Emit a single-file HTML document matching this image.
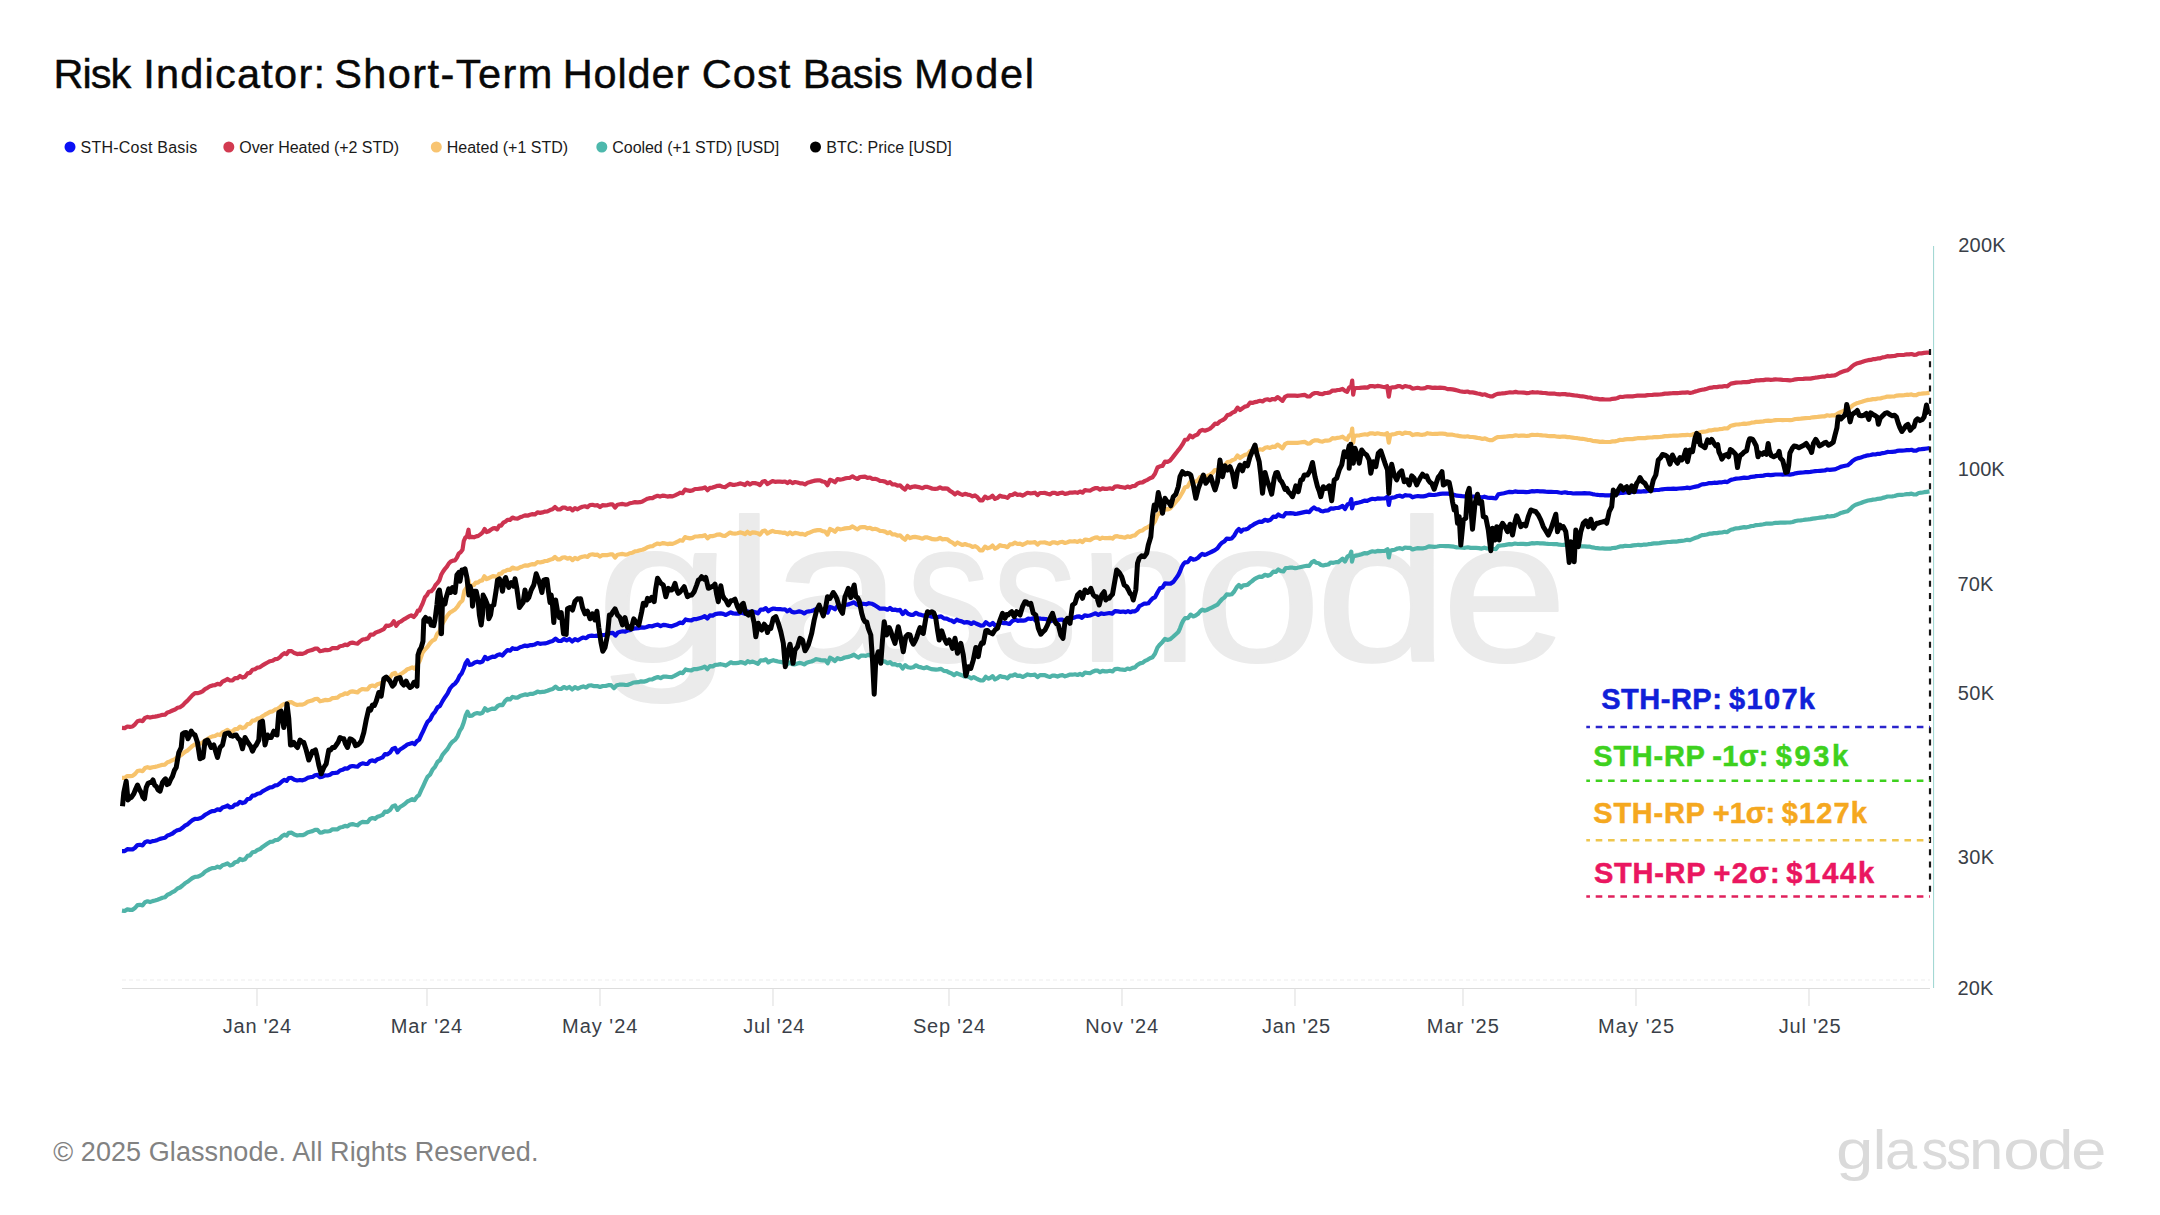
<!DOCTYPE html>
<html lang="en"><head><meta charset="utf-8"><title>Risk Indicator: Short-Term Holder Cost Basis Model</title>
<style>html,body{margin:0;padding:0;background:#fff;}body{width:2160px;height:1215px;overflow:hidden;font-family:"Liberation Sans", sans-serif;}svg{display:block;}text{font-family:"Liberation Sans", sans-serif;white-space:pre;}</style></head><body>
<svg width="2160" height="1215" viewBox="0 0 2160 1215">
<rect width="2160" height="1215" fill="#ffffff"/>
<text y="87.6" font-size="41.5" fill="#080808" stroke="#080808" stroke-width="0.45"><tspan x="53.50" letter-spacing="-1.000">Risk </tspan><tspan x="143.25" letter-spacing="1.222">Indicator: </tspan><tspan x="334.25" letter-spacing="1.417">Short-Term </tspan><tspan x="562.75" letter-spacing="0.850">Holder </tspan><tspan x="701.75" letter-spacing="1.083">Cost </tspan><tspan x="802.75" letter-spacing="-0.375">Basis </tspan><tspan x="914.00" letter-spacing="1.750">Model</tspan></text>
<circle cx="70" cy="147" r="5.5" fill="#0b10f5"/>
<text y="153" font-size="16" fill="#1a1a1a" ><tspan x="80.50" letter-spacing="0.231">STH-Cost Basis</tspan></text>
<circle cx="228.8" cy="147" r="5.5" fill="#d23a50"/>
<text y="153" font-size="16" fill="#1a1a1a" ><tspan x="239.25" letter-spacing="-0.039">Over Heated (+2 STD)</tspan></text>
<circle cx="436.3" cy="147" r="5.5" fill="#f8c471"/>
<text y="153" font-size="16" fill="#1a1a1a" ><tspan x="446.75" letter-spacing="0.000">Heated (+1 STD)</tspan></text>
<circle cx="601.8" cy="147" r="5.5" fill="#4db8ac"/>
<text y="153" font-size="16" fill="#1a1a1a" ><tspan x="612.25" letter-spacing="-0.037">Cooled (+1 STD) [USD]</tspan></text>
<circle cx="815.5" cy="147" r="5.5" fill="#000000"/>
<text y="153" font-size="16" fill="#1a1a1a" ><tspan x="826.25" letter-spacing="0.067">BTC: Price [USD]</tspan></text>
<text y="660.5" font-size="203" fill="#ebebeb" stroke="#ebebeb" stroke-width="2" stroke-linejoin="round"><tspan x="596.29" textLength="134.98" lengthAdjust="spacingAndGlyphs">g</tspan><tspan x="725.74" textLength="47.05" lengthAdjust="spacingAndGlyphs">l</tspan><tspan x="771.38" textLength="131.27" lengthAdjust="spacingAndGlyphs">a</tspan><tspan x="906.36" textLength="84.07" lengthAdjust="spacingAndGlyphs">s</tspan><tspan x="992.29" textLength="85.12" lengthAdjust="spacingAndGlyphs">s</tspan><tspan x="1077.92" textLength="120.50" lengthAdjust="spacingAndGlyphs">n</tspan><tspan x="1193.83" textLength="127.56" lengthAdjust="spacingAndGlyphs">o</tspan><tspan x="1314.99" textLength="133.60" lengthAdjust="spacingAndGlyphs">d</tspan><tspan x="1441.41" textLength="125.98" lengthAdjust="spacingAndGlyphs">e</tspan></text>
<line x1="122" y1="980" x2="1930" y2="980" stroke="#ededed" stroke-width="1" stroke-dasharray="4 3"/>
<line x1="122" y1="988.5" x2="1930" y2="988.5" stroke="#dcdcdc" stroke-width="1.2"/>
<line x1="257" y1="988.5" x2="257" y2="1006" stroke="#e2e2e2" stroke-width="1.2"/>
<text y="1032.5" font-size="20" fill="#3a3f48" ><tspan x="222.85" letter-spacing="0.717">Jan '24</tspan></text>
<line x1="427" y1="988.5" x2="427" y2="1006" stroke="#e2e2e2" stroke-width="1.2"/>
<text y="1032.5" font-size="20" fill="#3a3f48" ><tspan x="390.80" letter-spacing="0.883">Mar '24</tspan></text>
<line x1="600" y1="988.5" x2="600" y2="1006" stroke="#e2e2e2" stroke-width="1.2"/>
<text y="1032.5" font-size="20" fill="#3a3f48" ><tspan x="562.00" letter-spacing="1.008">May '24</tspan></text>
<line x1="773" y1="988.5" x2="773" y2="1006" stroke="#e2e2e2" stroke-width="1.2"/>
<text y="1032.5" font-size="20" fill="#3a3f48" ><tspan x="743.25" letter-spacing="0.642">Jul '24</tspan></text>
<line x1="949" y1="988.5" x2="949" y2="1006" stroke="#e2e2e2" stroke-width="1.2"/>
<text y="1032.5" font-size="20" fill="#3a3f48" ><tspan x="912.90" letter-spacing="0.833">Sep '24</tspan></text>
<line x1="1122" y1="988.5" x2="1122" y2="1006" stroke="#e2e2e2" stroke-width="1.2"/>
<text y="1032.5" font-size="20" fill="#3a3f48" ><tspan x="1085.20" letter-spacing="0.967">Nov '24</tspan></text>
<line x1="1295" y1="988.5" x2="1295" y2="1006" stroke="#e2e2e2" stroke-width="1.2"/>
<text y="1032.5" font-size="20" fill="#3a3f48" ><tspan x="1262.05" letter-spacing="0.692">Jan '25</tspan></text>
<line x1="1463" y1="988.5" x2="1463" y2="1006" stroke="#e2e2e2" stroke-width="1.2"/>
<text y="1032.5" font-size="20" fill="#3a3f48" ><tspan x="1426.80" letter-spacing="0.992">Mar '25</tspan></text>
<line x1="1636" y1="988.5" x2="1636" y2="1006" stroke="#e2e2e2" stroke-width="1.2"/>
<text y="1032.5" font-size="20" fill="#3a3f48" ><tspan x="1598.00" letter-spacing="1.100">May '25</tspan></text>
<line x1="1809" y1="988.5" x2="1809" y2="1006" stroke="#e2e2e2" stroke-width="1.2"/>
<text y="1032.5" font-size="20" fill="#3a3f48" ><tspan x="1778.75" letter-spacing="0.767">Jul '25</tspan></text>
<text y="252.4" font-size="20" fill="#3a3f48" ><tspan x="1958.20" letter-spacing="0.267">200K</tspan></text>
<text y="475.8" font-size="20" fill="#3a3f48" ><tspan x="1957.70" letter-spacing="0.100">100K</tspan></text>
<text y="590.7" font-size="20" fill="#3a3f48" ><tspan x="1957.50" letter-spacing="0.125">70K</tspan></text>
<text y="699.6" font-size="20" fill="#3a3f48" ><tspan x="1957.75" letter-spacing="0.350">50K</tspan></text>
<text y="864.4" font-size="20" fill="#3a3f48" ><tspan x="1957.75" letter-spacing="0.350">30K</tspan></text>
<text y="995.2" font-size="20" fill="#3a3f48" ><tspan x="1957.50" letter-spacing="0.125">20K</tspan></text>
<line x1="1933.6" y1="246" x2="1933.6" y2="988" stroke="#9bd4d0" stroke-width="1"/>
<polyline points="122.0,910.6 124.7,911.0 127.3,909.4 130.0,909.9 132.5,909.8 135.0,908.0 137.5,905.1 140.0,904.8 142.5,905.4 145.0,902.2 147.5,901.3 150.0,902.1 152.5,901.1 155.0,900.5 157.5,899.7 160.0,898.8 162.5,897.8 165.0,897.3 167.5,894.7 170.0,893.7 172.5,892.1 175.0,890.8 177.5,888.5 180.0,887.5 182.5,885.5 185.0,883.3 187.5,881.8 190.0,879.9 192.5,878.0 195.0,876.8 197.5,876.7 200.0,875.8 202.5,874.3 205.0,871.8 207.5,870.3 210.0,868.9 212.5,868.1 215.0,868.0 217.5,866.7 220.0,867.6 222.5,865.2 225.0,864.5 227.5,863.4 230.0,865.5 232.5,864.8 235.0,862.2 237.5,861.7 240.0,859.0 242.5,860.1 245.0,859.2 247.5,855.9 250.0,855.4 252.5,852.2 255.0,851.8 257.5,849.9 260.0,849.1 262.5,846.9 265.0,845.2 267.5,843.5 270.0,841.9 272.5,841.7 275.0,840.2 277.5,840.0 280.0,838.3 282.2,836.1 284.4,834.7 286.6,835.7 288.8,832.8 291.6,832.7 294.4,834.6 297.2,835.5 300.0,835.0 302.5,835.2 305.0,834.2 307.5,832.5 310.0,831.7 312.5,831.1 315.0,829.9 317.5,829.9 320.0,832.6 322.5,832.3 325.0,831.3 327.5,831.5 330.0,831.0 332.5,829.3 335.0,829.4 337.5,829.3 340.0,827.5 342.5,827.0 345.0,825.9 347.5,826.4 350.0,824.5 352.5,824.1 355.0,824.8 357.5,825.3 360.0,823.1 362.5,821.9 365.0,822.1 367.5,822.2 370.0,819.0 372.5,818.1 375.0,818.8 377.5,816.7 380.0,815.9 382.5,814.9 385.0,811.6 387.5,811.8 390.0,810.1 392.5,806.4 395.0,805.3 397.5,809.9 400.0,807.0 402.5,805.5 405.0,803.8 407.4,801.5 409.8,800.4 412.2,799.2 414.6,800.2 417.0,796.6 419.1,795.0 421.2,790.2 423.3,785.8 425.4,781.2 427.5,776.8 430.0,774.7 432.5,769.7 435.0,766.8 437.5,762.0 440.0,760.0 442.5,754.8 445.0,751.8 447.5,749.0 450.0,744.7 452.5,741.7 455.0,739.9 457.5,736.6 459.6,731.2 461.7,727.9 463.8,722.2 465.6,715.7 467.5,711.6 469.5,716.0 472.1,715.7 474.7,713.7 477.3,713.0 479.9,713.7 482.5,712.7 485.0,708.3 487.5,710.6 490.0,709.4 492.5,708.6 495.0,708.9 497.5,706.2 500.0,704.8 502.5,705.1 505.0,701.1 507.5,698.8 510.0,699.5 512.5,696.9 515.0,697.6 517.5,697.6 520.0,696.1 522.5,695.2 525.0,694.4 527.5,694.9 530.0,693.9 532.5,693.9 535.0,693.1 537.5,691.6 540.0,692.3 542.5,691.9 545.0,691.6 547.5,690.8 550.0,689.8 552.8,688.9 555.6,686.6 558.3,688.8 561.1,689.0 563.9,687.0 566.7,688.4 569.4,687.0 572.2,689.5 575.0,687.1 577.8,688.7 580.6,687.3 583.3,686.4 586.1,687.5 588.9,685.5 591.7,685.4 594.4,686.2 597.2,686.0 600.0,687.0 602.8,686.0 605.6,686.0 608.3,685.2 611.1,685.1 613.9,688.2 616.7,685.3 619.4,684.7 622.2,684.5 625.0,684.8 627.5,685.0 630.0,684.1 632.8,682.8 635.6,682.3 638.3,682.2 641.1,681.3 643.9,681.6 646.7,680.9 649.4,679.5 652.2,679.4 655.0,678.0 657.8,677.0 660.6,678.1 663.3,676.6 666.1,676.6 668.9,677.0 671.7,677.1 674.4,675.9 677.2,674.4 680.0,672.7 682.8,673.1 685.6,669.4 688.3,670.2 691.1,670.5 693.9,669.1 696.7,669.1 699.3,668.5 702.0,667.9 704.7,666.6 707.3,669.2 710.0,666.2 712.7,666.4 715.3,664.9 718.0,664.6 720.7,664.2 723.3,664.7 725.8,665.6 728.3,664.0 730.8,662.3 733.3,663.2 735.8,663.1 738.3,662.9 740.7,662.1 743.0,662.6 745.3,663.6 747.7,661.2 750.0,662.3 752.7,661.6 755.3,662.6 758.0,663.8 760.7,660.3 763.3,660.5 765.8,659.3 768.3,662.4 770.8,660.9 773.3,660.2 775.7,660.9 778.0,661.5 780.3,661.8 782.7,662.5 785.0,662.7 787.3,664.3 789.7,662.4 792.0,664.2 794.3,664.5 796.7,663.7 799.2,662.9 801.7,663.3 804.2,664.4 806.7,662.7 809.0,662.0 811.3,661.5 813.7,660.5 816.0,659.2 818.3,659.5 820.7,660.1 823.0,660.4 825.3,660.3 827.7,663.3 830.0,657.7 832.5,659.0 835.0,661.0 837.5,658.1 840.0,659.2 842.3,658.7 844.7,657.5 847.0,657.2 849.3,656.6 851.7,655.7 854.0,654.7 856.3,656.4 858.7,657.5 861.0,655.6 863.3,655.5 865.8,655.9 868.3,654.8 870.7,655.6 873.0,657.7 875.3,658.0 877.7,659.1 880.0,660.4 882.5,661.0 885.0,661.6 887.5,663.2 890.0,662.2 892.5,664.4 895.0,664.2 897.5,665.3 900.0,664.9 902.7,668.6 905.3,665.1 908.0,667.3 910.7,667.8 913.3,667.3 916.0,665.3 918.7,666.9 921.3,667.4 924.0,668.2 926.7,667.2 929.0,668.2 931.3,669.1 933.7,669.4 936.0,669.7 938.3,669.4 941.1,668.9 943.9,670.9 946.7,671.2 949.2,672.6 951.7,673.5 954.2,675.2 956.7,673.1 959.2,674.3 961.7,675.2 964.2,676.5 966.7,676.3 969.0,677.0 971.3,678.4 973.7,677.0 976.0,678.4 978.3,679.5 980.8,680.5 983.3,680.3 985.8,676.8 988.3,678.7 990.0,678.1 992.5,676.1 995.0,679.4 997.5,678.2 1000.0,676.0 1002.5,676.9 1005.0,677.2 1007.5,678.3 1010.0,675.7 1012.5,675.6 1015.0,674.3 1017.5,675.9 1020.0,675.7 1022.5,677.0 1025.0,675.8 1027.5,674.4 1030.0,675.1 1032.5,675.0 1035.0,674.7 1037.5,677.1 1040.0,675.2 1042.5,675.2 1045.0,675.2 1047.5,676.2 1050.0,677.0 1052.5,675.5 1055.0,675.7 1057.5,676.6 1060.0,675.5 1062.5,675.1 1065.0,676.3 1067.5,675.5 1070.0,674.6 1072.5,674.7 1075.0,674.3 1077.5,675.0 1080.0,673.8 1082.5,675.1 1085.0,672.5 1087.5,673.0 1090.0,673.2 1092.5,671.7 1095.0,670.7 1097.5,670.6 1100.0,672.2 1102.5,670.9 1105.0,671.4 1107.5,671.3 1110.0,670.8 1112.5,671.5 1115.0,669.1 1117.5,668.8 1120.0,669.4 1122.5,669.6 1125.0,670.0 1127.5,668.5 1130.0,669.2 1132.5,667.9 1135.0,667.4 1137.5,664.8 1140.0,663.4 1142.5,662.8 1145.0,660.9 1147.5,659.8 1150.0,658.2 1152.5,657.2 1155.0,653.8 1157.5,647.5 1160.0,644.4 1162.5,641.9 1165.0,638.8 1167.5,639.9 1170.0,639.3 1172.8,637.0 1175.6,634.5 1178.3,632.0 1180.0,628.3 1181.7,623.7 1183.3,620.5 1185.0,618.2 1187.8,618.2 1190.6,614.6 1193.3,616.4 1195.6,615.6 1197.8,614.1 1200.0,611.5 1202.2,609.7 1204.4,610.7 1206.7,610.0 1209.4,608.7 1212.2,607.3 1215.0,605.9 1217.5,604.6 1220.0,601.5 1222.2,599.0 1224.4,597.6 1226.7,594.4 1229.2,594.7 1231.7,594.3 1234.2,591.5 1236.7,587.2 1238.9,584.9 1241.1,587.4 1243.3,585.3 1245.6,585.2 1247.8,584.6 1250.0,582.6 1252.2,581.0 1254.4,579.2 1256.7,577.9 1259.4,576.6 1262.2,576.8 1265.0,574.8 1267.8,575.8 1270.6,574.7 1273.3,571.7 1275.8,571.9 1278.3,569.4 1280.8,571.0 1283.3,571.5 1285.7,568.0 1288.0,568.0 1290.3,567.6 1292.7,567.7 1295.0,568.1 1297.3,567.8 1299.7,567.3 1302.0,566.7 1304.3,566.2 1306.7,565.8 1309.2,565.9 1311.7,562.4 1314.0,561.0 1316.3,562.8 1318.7,563.3 1321.0,565.0 1323.3,565.5 1325.8,564.8 1328.3,564.5 1330.8,562.5 1333.3,562.8 1335.8,562.2 1338.3,562.1 1340.0,560.6 1342.5,558.8 1345.0,561.5 1347.5,556.5 1350.0,554.9 1351.3,551.6 1352.0,561.6 1353.3,556.4 1356.1,555.6 1358.9,555.0 1361.7,554.2 1364.4,553.1 1367.2,553.4 1370.0,552.1 1372.5,551.3 1375.0,551.7 1377.5,550.9 1380.0,551.2 1382.5,551.0 1385.0,550.8 1387.5,549.2 1388.8,557.5 1390.0,551.0 1392.5,550.1 1395.0,549.7 1397.5,548.5 1400.0,548.2 1402.5,549.1 1405.0,547.5 1407.5,547.8 1410.0,547.8 1412.5,549.5 1415.0,548.7 1417.8,548.1 1420.6,548.3 1423.3,548.3 1426.1,547.7 1428.9,546.4 1431.7,546.6 1434.4,546.8 1437.2,546.5 1440.0,546.0 1442.8,546.0 1445.6,546.1 1448.3,546.1 1451.1,546.4 1453.9,546.7 1456.7,547.4 1459.4,547.5 1462.2,547.7 1465.0,547.8 1467.8,547.3 1470.6,547.9 1473.3,547.8 1476.1,547.9 1478.9,548.1 1481.7,548.6 1484.4,547.7 1487.2,548.5 1490.0,548.6 1491.9,548.7 1493.9,549.0 1495.8,549.1 1498.3,545.9 1501.1,545.5 1503.9,545.2 1506.7,544.6 1509.4,544.1 1512.2,544.3 1515.0,543.5 1517.8,544.0 1520.6,543.8 1523.3,543.8 1526.1,544.2 1528.9,543.9 1531.7,543.2 1534.4,543.4 1537.2,543.0 1540.0,543.3 1542.8,543.3 1545.6,543.7 1548.3,543.9 1551.1,544.0 1553.9,544.1 1556.7,544.1 1559.4,544.7 1562.2,545.0 1565.0,544.7 1567.8,545.3 1570.6,545.4 1573.3,546.0 1576.1,546.1 1578.9,546.1 1581.7,546.3 1584.4,546.3 1587.2,546.6 1590.0,546.7 1592.5,547.4 1595.0,547.8 1597.5,548.1 1600.0,548.5 1602.5,548.4 1605.0,548.7 1607.5,548.7 1610.0,548.7 1612.5,548.0 1615.0,547.9 1617.5,547.2 1620.0,546.4 1622.7,546.4 1625.3,545.8 1628.0,546.0 1630.7,545.9 1633.3,545.4 1635.8,545.2 1638.3,544.8 1640.8,545.1 1643.3,544.7 1645.8,544.7 1648.3,544.2 1651.1,543.9 1653.9,543.4 1656.7,543.3 1659.4,543.1 1662.2,542.6 1665.0,542.3 1667.8,542.0 1670.6,541.9 1673.3,541.6 1676.1,541.7 1678.9,541.1 1681.7,540.8 1684.4,540.5 1687.2,539.8 1690.0,540.1 1692.8,538.9 1695.6,537.8 1698.3,536.9 1700.2,535.9 1702.0,535.1 1704.4,534.9 1706.9,534.5 1709.3,533.7 1711.7,533.6 1714.1,533.1 1716.7,533.1 1719.4,532.7 1722.0,532.5 1724.7,531.8 1727.3,532.1 1729.1,530.8 1730.9,529.7 1733.6,529.1 1736.2,528.3 1738.9,528.1 1741.5,527.6 1744.2,527.2 1746.6,527.3 1749.0,526.8 1751.4,526.0 1753.8,525.8 1756.2,525.1 1758.6,525.0 1761.0,524.7 1763.4,524.3 1765.8,523.7 1768.2,523.5 1770.6,523.6 1773.1,523.3 1775.5,522.9 1777.9,522.8 1780.3,522.7 1782.7,522.7 1785.1,522.6 1787.5,522.5 1789.9,522.5 1792.7,522.0 1795.5,521.0 1798.3,520.5 1800.7,520.3 1803.1,520.0 1805.6,519.6 1808.0,519.4 1810.4,519.1 1812.8,518.6 1815.2,518.3 1817.6,518.0 1820.0,517.7 1822.4,517.4 1824.8,517.2 1827.2,516.2 1829.6,516.5 1832.0,516.1 1834.4,515.8 1836.5,515.0 1838.5,514.1 1840.5,513.1 1842.9,512.4 1845.3,511.8 1847.7,511.2 1850.1,509.2 1852.5,506.8 1854.5,505.4 1856.5,504.4 1858.5,503.7 1860.9,503.0 1863.3,502.0 1865.7,501.2 1868.1,500.5 1870.6,500.2 1873.0,499.6 1875.4,499.5 1877.8,498.8 1880.2,498.7 1882.6,497.9 1885.0,497.4 1887.4,496.5 1889.8,496.5 1892.2,496.3 1894.6,496.0 1897.0,495.2 1899.4,494.9 1901.9,494.8 1904.3,494.5 1906.7,494.1 1909.1,494.1 1911.5,493.6 1913.9,494.5 1916.3,494.3 1918.7,493.0 1921.4,492.7 1924.1,492.2 1926.8,491.8 1929.5,491.4" fill="none" stroke="#4fb3a8" stroke-width="4.2" stroke-linejoin="round" stroke-linecap="butt" />
<polyline points="122.0,777.9 124.7,777.9 127.3,776.0 130.0,776.2 132.5,775.9 135.0,774.0 137.5,771.0 140.0,770.5 142.5,771.2 145.0,768.1 147.5,767.2 150.0,768.1 152.5,767.3 155.0,766.9 157.5,766.3 160.0,765.6 162.5,764.8 165.0,764.6 167.5,762.2 170.0,761.4 172.5,760.1 175.0,759.1 177.5,756.9 180.0,755.9 182.5,754.0 185.0,751.9 187.5,750.6 190.0,748.2 192.5,745.9 195.0,744.3 197.5,744.5 200.0,743.8 202.5,742.5 205.0,740.3 207.5,739.0 210.0,737.4 212.5,736.4 215.0,736.0 217.5,734.4 220.0,735.1 222.5,732.4 225.0,731.4 227.5,729.9 230.0,731.8 232.5,731.4 235.0,729.1 237.5,729.0 240.0,726.6 242.5,728.1 245.0,727.3 247.5,724.1 250.0,723.7 252.5,720.6 255.0,720.3 257.5,718.6 260.0,718.1 262.5,716.2 265.0,714.7 267.5,713.3 270.0,711.9 272.5,711.4 275.0,709.6 277.5,709.0 280.0,707.1 282.2,705.0 284.4,703.8 286.6,705.0 288.8,702.3 291.6,702.2 294.4,704.1 297.2,705.0 300.0,704.5 302.5,704.6 305.0,703.6 307.5,701.8 310.0,701.0 312.5,700.4 315.0,699.0 317.5,698.8 320.0,701.3 322.5,700.8 325.0,699.9 327.5,700.1 330.0,699.7 332.5,698.1 335.0,697.9 337.5,697.6 340.0,695.5 342.5,694.8 345.0,693.4 347.5,693.9 350.0,691.9 352.5,691.4 355.0,691.9 357.5,692.4 360.0,690.1 362.5,689.0 365.0,689.3 367.5,689.4 370.0,686.3 372.5,685.5 375.0,686.3 377.5,684.2 380.0,683.4 382.5,682.4 385.0,679.1 387.5,679.3 390.0,677.6 392.5,673.9 395.0,672.8 397.5,677.4 400.0,674.5 402.5,673.0 405.0,671.3 407.4,669.2 409.8,668.4 412.2,667.4 414.6,668.7 417.0,665.4 419.8,660.6 422.5,652.7 425.0,649.5 427.5,646.9 430.0,643.2 432.5,640.6 435.0,639.3 437.2,633.9 439.4,631.5 441.6,625.5 443.8,621.3 445.6,618.3 447.5,615.3 450.0,612.5 452.5,611.1 455.0,609.5 457.5,606.6 460.0,602.7 462.5,600.4 464.4,591.0 466.9,587.2 468.5,580.3 469.4,587.3 471.6,585.8 473.8,585.1 475.8,582.5 477.9,582.6 480.0,580.9 482.2,580.4 484.4,576.3 486.6,579.1 488.8,578.2 490.8,577.1 492.9,576.1 495.0,576.3 497.1,577.5 499.2,573.8 501.2,573.7 503.3,571.5 505.4,571.0 507.5,569.8 510.0,569.9 512.5,567.6 515.0,568.5 517.5,568.6 520.0,567.3 522.5,566.4 525.0,565.4 527.5,565.7 530.0,564.7 532.5,564.1 535.0,564.3 537.5,562.0 540.0,562.5 542.5,561.9 545.0,561.0 547.5,560.8 550.0,559.8 552.5,559.1 555.0,556.9 557.5,559.3 560.0,559.4 562.5,557.5 565.0,557.3 567.5,558.7 570.0,557.8 572.5,560.1 575.0,557.9 577.5,559.2 580.0,557.6 582.5,556.7 585.0,556.2 587.5,556.9 590.0,554.7 592.5,554.3 595.0,554.9 597.5,554.7 600.0,556.6 602.5,555.0 605.0,555.2 607.5,555.1 610.0,554.4 612.5,554.3 615.0,557.5 617.5,554.7 620.0,554.3 622.5,553.9 625.0,554.6 627.5,554.3 630.0,553.2 632.5,552.7 635.0,551.4 637.5,551.0 640.0,550.2 642.5,549.8 645.0,548.8 647.5,547.2 650.0,546.4 652.5,546.2 655.0,544.6 657.5,543.5 660.0,544.1 662.5,543.1 665.0,543.4 667.5,544.1 670.0,543.6 672.5,543.9 675.0,542.9 677.5,541.7 680.0,540.2 682.5,540.7 685.0,537.1 687.5,537.9 690.0,538.4 692.5,537.9 695.0,536.5 697.5,536.5 700.0,536.2 702.5,536.1 705.0,535.2 707.5,538.3 710.0,536.2 712.5,536.1 715.0,535.5 717.5,534.6 720.0,534.4 722.5,535.6 725.0,535.9 727.5,534.3 730.0,532.6 732.5,533.5 735.0,533.6 737.5,533.2 740.0,532.4 742.5,533.0 745.0,534.1 747.5,531.8 750.0,533.8 752.5,532.4 755.0,532.6 757.5,533.2 760.0,534.6 762.5,531.3 765.0,530.5 767.5,533.6 770.0,532.0 772.5,530.8 775.0,531.9 777.5,532.0 780.0,532.3 782.5,532.8 785.0,532.7 787.5,534.3 790.0,532.4 792.5,534.2 795.0,532.9 797.5,533.3 800.0,534.1 802.5,533.9 805.0,534.9 807.5,533.2 810.0,532.4 812.5,531.3 815.0,530.6 817.5,530.1 820.0,530.0 822.5,531.1 825.0,531.5 827.5,534.6 830.0,529.0 832.5,530.1 835.0,531.7 837.5,528.6 840.0,529.3 842.5,529.0 845.0,528.4 847.5,528.1 850.0,527.9 852.5,526.4 855.0,528.1 857.5,529.3 860.0,527.4 862.5,527.2 865.0,527.1 867.5,528.3 870.0,527.8 872.5,529.2 875.0,528.8 877.5,529.5 880.0,530.8 882.5,531.0 885.0,531.6 887.5,533.2 890.0,532.2 892.5,534.5 895.0,534.4 897.5,535.7 900.0,535.3 902.5,537.8 905.0,539.7 907.5,536.0 910.0,538.1 912.5,537.2 915.0,536.9 917.5,537.4 920.0,537.9 922.5,538.7 925.0,537.4 927.5,537.4 930.0,538.2 932.5,539.2 935.0,539.4 937.5,539.2 940.0,537.9 942.5,539.3 945.0,539.0 947.5,539.3 950.0,541.4 952.5,542.6 955.0,544.6 957.5,542.5 960.0,543.8 962.5,545.0 965.0,544.1 967.5,545.0 970.0,545.5 972.5,546.9 975.0,546.2 977.5,547.5 980.0,550.4 982.5,550.3 985.0,546.6 987.5,548.3 990.0,547.6 992.5,545.5 995.0,548.7 997.5,547.4 1000.0,545.2 1002.5,546.0 1005.0,546.2 1007.5,547.2 1010.0,544.4 1012.5,544.1 1015.0,542.7 1017.5,544.0 1020.0,543.7 1022.5,544.9 1025.0,543.7 1027.5,542.2 1030.0,542.7 1032.5,542.5 1035.0,542.2 1037.5,544.6 1040.0,542.5 1042.5,542.5 1045.0,542.4 1047.5,543.3 1050.0,543.9 1052.5,542.3 1055.0,542.4 1057.5,543.3 1060.0,542.2 1062.5,541.8 1065.0,543.0 1067.5,542.3 1070.0,541.3 1072.5,541.5 1075.0,541.2 1077.5,541.9 1080.0,540.7 1082.5,542.1 1085.0,539.5 1087.5,539.9 1090.0,540.1 1092.5,538.6 1095.0,537.6 1097.5,537.4 1100.0,539.0 1102.5,537.7 1105.0,538.2 1107.5,538.1 1110.0,537.8 1112.5,538.6 1115.0,536.4 1117.5,536.2 1120.0,536.9 1122.5,537.2 1125.0,537.6 1127.5,536.3 1130.0,537.0 1132.5,535.8 1135.0,535.4 1137.5,532.7 1140.0,531.1 1142.5,530.4 1145.0,528.4 1147.5,527.3 1150.0,525.7 1152.5,524.7 1155.0,521.3 1157.5,515.0 1160.0,512.5 1162.5,512.6 1165.0,508.7 1167.5,509.5 1170.0,508.6 1172.5,505.8 1175.0,502.9 1177.5,500.0 1180.0,496.5 1182.5,492.3 1185.0,487.3 1187.5,486.7 1190.0,482.3 1192.5,483.9 1195.0,481.7 1197.5,480.7 1200.0,477.2 1202.5,476.2 1205.0,477.0 1207.5,476.0 1210.0,474.9 1212.5,472.8 1215.0,470.0 1217.5,470.1 1220.0,467.6 1222.5,466.4 1225.0,465.0 1227.5,462.0 1230.0,461.7 1232.5,460.1 1235.0,459.1 1237.5,455.4 1240.0,458.0 1242.5,456.3 1245.0,454.8 1247.5,454.3 1250.0,451.2 1252.5,451.4 1255.0,450.7 1257.5,450.4 1260.0,449.3 1262.5,449.8 1265.0,447.8 1267.5,447.2 1270.0,448.0 1272.5,446.7 1275.0,447.0 1277.5,444.6 1280.0,446.3 1282.5,448.3 1285.0,444.2 1287.5,442.9 1290.0,442.8 1292.5,442.8 1295.0,442.8 1297.5,442.9 1300.0,442.5 1302.5,442.2 1305.0,441.9 1307.5,443.6 1310.0,443.4 1312.5,441.2 1315.0,440.3 1317.5,440.3 1320.0,441.3 1322.5,441.7 1325.0,440.6 1327.5,440.6 1330.0,440.2 1332.5,438.2 1335.0,438.5 1337.5,437.8 1340.0,437.5 1342.5,436.7 1345.0,438.6 1347.1,439.7 1349.2,435.4 1351.2,434.6 1352.2,428.6 1353.2,442.6 1354.2,436.1 1356.9,435.5 1359.6,435.3 1362.3,434.8 1365.0,434.3 1367.5,434.7 1370.0,433.4 1372.5,433.3 1375.0,434.0 1377.5,433.3 1380.0,433.8 1382.4,434.1 1384.8,434.3 1387.2,433.2 1388.8,442.7 1390.2,435.0 1392.7,434.3 1395.1,434.0 1397.6,433.0 1400.0,432.9 1402.5,434.0 1405.0,432.6 1407.5,433.0 1410.0,433.2 1412.5,435.1 1415.0,434.4 1417.5,434.1 1420.0,434.6 1422.5,434.8 1425.0,434.4 1427.5,433.2 1430.0,433.7 1432.5,434.0 1435.0,433.8 1437.5,433.8 1440.0,433.5 1442.5,433.6 1445.0,433.8 1447.5,434.7 1450.0,434.6 1452.5,434.7 1455.0,435.2 1457.5,435.6 1460.0,436.2 1462.5,436.5 1465.0,436.7 1467.5,436.3 1470.0,437.0 1472.5,437.0 1475.0,437.4 1477.5,437.9 1480.0,438.2 1482.5,439.0 1485.0,438.4 1487.5,439.5 1490.0,440.2 1492.5,440.1 1495.0,438.4 1497.5,437.1 1500.0,437.0 1502.5,436.8 1505.0,436.7 1507.5,436.3 1510.0,436.0 1512.8,436.1 1515.6,435.3 1518.3,435.8 1521.1,435.7 1523.9,435.7 1526.7,436.0 1529.4,435.6 1532.2,434.8 1535.0,435.0 1537.5,434.8 1540.0,435.2 1542.5,435.4 1545.0,435.5 1547.5,435.9 1550.0,436.1 1552.5,436.2 1555.0,436.2 1557.5,436.7 1560.0,436.9 1562.5,436.5 1565.0,436.6 1567.5,437.1 1570.0,437.2 1572.5,437.6 1575.0,438.0 1577.5,438.2 1580.0,438.6 1582.5,438.8 1585.0,439.2 1587.5,439.8 1590.0,440.0 1592.5,440.8 1595.0,441.1 1597.5,441.4 1600.0,441.9 1602.5,441.7 1605.0,442.0 1607.5,442.0 1610.0,442.0 1612.5,441.4 1615.0,441.4 1617.5,440.8 1620.0,439.8 1622.5,440.0 1625.0,439.4 1627.5,439.1 1630.0,439.2 1632.5,439.1 1635.0,438.6 1637.5,438.2 1640.0,438.2 1642.5,438.0 1645.0,438.1 1647.5,437.6 1650.0,437.5 1652.5,437.4 1655.0,437.0 1657.5,437.1 1660.0,437.0 1662.5,436.6 1665.0,436.1 1667.5,436.1 1670.0,435.8 1672.5,435.7 1675.0,435.5 1677.5,435.7 1680.0,435.3 1682.5,435.2 1685.0,435.1 1687.5,434.8 1690.0,435.2 1692.4,434.6 1694.8,433.8 1697.2,433.1 1699.6,432.5 1702.0,431.9 1704.4,431.7 1706.9,431.2 1709.3,430.3 1711.7,430.3 1714.1,429.7 1716.7,429.7 1719.4,429.2 1722.0,429.0 1724.7,428.3 1727.3,428.5 1729.1,427.1 1730.9,425.7 1733.6,425.1 1736.2,424.5 1738.9,424.3 1741.5,424.0 1744.2,423.6 1746.6,423.8 1749.0,423.4 1751.4,422.7 1753.8,422.5 1756.2,421.9 1758.6,421.8 1761.0,421.6 1763.4,421.4 1765.8,420.8 1768.2,420.7 1770.6,420.8 1773.1,420.5 1775.5,420.1 1777.9,420.0 1780.3,420.0 1782.7,420.1 1785.1,420.0 1787.5,420.0 1789.9,420.1 1792.7,419.8 1795.5,419.0 1798.3,418.8 1800.7,418.6 1803.1,418.3 1805.6,418.1 1808.0,418.0 1810.4,417.8 1812.8,417.3 1815.2,417.1 1817.6,416.9 1820.0,416.6 1822.4,416.4 1824.8,416.3 1827.2,415.3 1829.6,415.8 1832.0,415.4 1834.4,415.3 1836.5,414.3 1838.5,413.2 1840.5,412.1 1842.9,411.2 1845.3,410.1 1847.7,409.3 1850.1,407.7 1852.5,405.6 1854.5,404.3 1856.5,403.3 1858.5,402.8 1860.9,402.1 1863.3,401.2 1865.7,400.5 1868.1,399.9 1870.6,399.6 1873.0,399.1 1875.4,399.1 1877.8,398.5 1880.2,398.5 1882.6,397.7 1885.0,397.3 1887.4,396.5 1889.8,396.6 1892.2,396.5 1894.6,396.3 1897.0,395.6 1899.4,395.3 1901.9,395.3 1904.3,395.1 1906.7,394.7 1909.1,394.8 1911.5,394.4 1913.9,395.2 1916.3,395.1 1918.7,393.8 1921.4,393.7 1924.1,393.3 1926.8,393.1 1929.5,392.8" fill="none" stroke="#f7c36c" stroke-width="4.2" stroke-linejoin="round" stroke-linecap="butt" />
<polyline points="122.0,727.9 124.7,728.1 127.3,726.5 130.0,726.9 132.5,726.5 135.0,724.3 137.5,721.2 140.0,720.5 142.5,721.1 145.0,717.9 147.5,716.9 150.0,717.6 152.5,716.9 155.0,716.6 157.5,716.1 160.0,715.5 162.5,714.8 165.0,714.7 167.5,712.4 170.0,711.7 172.5,710.5 175.0,709.6 177.5,707.8 180.0,707.2 182.5,705.6 185.0,702.8 187.5,700.6 190.0,697.8 192.5,695.1 195.0,693.1 197.5,693.2 200.0,692.5 202.5,691.3 205.0,689.1 207.5,687.8 210.0,686.3 212.5,685.4 215.0,685.2 217.5,683.8 220.0,684.6 222.5,681.7 225.0,680.5 227.5,678.9 230.0,680.5 232.5,680.3 235.0,678.2 237.5,678.2 240.0,676.0 242.5,677.6 245.0,676.7 247.5,673.4 250.0,672.9 252.5,669.7 255.0,669.3 257.5,667.6 260.0,667.2 262.5,665.3 265.0,663.9 267.5,662.5 270.0,661.2 272.5,660.8 275.0,659.2 277.5,658.9 280.0,657.1 282.2,654.7 284.4,653.2 286.6,654.1 288.8,651.0 291.6,651.1 294.4,653.1 297.2,654.1 300.0,653.7 302.5,653.9 305.0,652.9 307.5,651.2 310.0,650.5 312.5,649.9 315.0,648.6 317.5,648.6 320.0,651.2 322.5,650.8 325.0,649.9 327.5,650.1 330.0,649.7 332.5,648.1 335.0,648.2 337.5,648.1 340.0,646.2 342.5,645.8 345.0,644.6 347.5,645.1 350.0,643.1 352.5,642.6 355.0,643.2 357.5,643.6 360.0,641.4 362.7,639.5 365.3,639.1 368.0,638.4 370.6,634.5 373.3,634.6 375.9,632.4 378.6,631.6 381.2,630.3 383.8,629.1 386.2,625.7 388.8,625.8 391.2,624.9 393.8,621.2 396.2,625.8 398.8,622.4 401.2,621.3 403.8,619.4 406.2,618.1 408.8,616.4 411.2,615.4 413.8,617.0 416.2,614.1 417.8,610.7 419.4,610.6 420.9,607.2 422.5,603.9 425.0,597.1 426.9,595.1 428.8,591.8 431.2,591.3 433.8,588.4 435.6,584.9 437.5,583.1 439.4,580.3 441.2,574.8 443.1,571.5 445.0,568.8 446.9,566.6 448.8,563.5 450.8,561.5 452.9,560.7 455.0,560.4 456.9,557.6 458.8,553.5 460.6,552.3 462.5,549.8 463.8,541.0 465.3,537.6 466.9,536.6 468.5,529.7 469.4,537.3 471.7,536.9 474.0,537.3 476.2,536.4 478.3,535.9 480.4,534.4 482.5,532.7 484.6,529.0 486.7,532.0 488.8,531.3 490.8,529.8 492.9,528.4 495.0,528.1 497.1,529.4 499.2,525.7 501.2,525.6 503.3,522.7 505.4,521.7 507.5,519.8 510.0,519.9 512.5,517.6 515.0,518.5 517.5,518.6 520.0,517.3 522.5,516.4 525.0,515.4 527.5,515.7 530.0,514.7 532.5,514.1 535.0,514.5 537.5,512.3 540.0,512.9 542.5,512.4 545.0,511.6 547.5,511.3 550.0,510.1 552.5,509.3 555.0,507.0 557.5,509.3 560.0,509.5 562.5,507.7 565.0,507.5 567.5,509.0 570.0,508.2 572.5,510.4 575.0,508.1 577.5,509.3 580.0,507.7 582.5,506.7 585.0,506.3 587.5,507.2 590.0,505.0 592.5,504.8 595.0,505.5 597.5,505.2 600.0,507.0 602.5,505.2 605.0,505.3 607.5,505.1 610.0,504.4 612.5,504.3 615.0,507.5 617.5,504.7 620.0,504.3 622.5,503.9 625.0,504.6 627.5,504.3 630.0,503.2 632.5,502.7 635.0,502.1 637.5,502.4 640.0,502.2 642.5,501.4 645.0,500.0 647.5,498.7 650.0,498.1 652.5,498.1 655.0,496.7 657.5,495.8 660.0,496.6 662.5,495.6 665.0,495.9 667.5,496.6 670.0,496.1 672.5,496.4 675.0,495.4 677.5,494.2 680.0,492.7 682.5,493.2 685.0,489.6 687.5,490.4 690.0,490.9 692.5,490.4 695.0,489.0 697.5,489.0 700.0,488.7 702.5,488.4 705.0,487.3 707.5,490.2 710.0,487.8 712.5,487.6 715.0,486.7 717.5,485.8 720.0,485.7 722.5,486.8 725.0,487.2 727.5,485.6 730.0,483.9 732.5,484.8 735.0,484.8 737.5,484.3 740.0,483.4 742.5,484.0 745.0,485.0 747.5,482.6 750.0,484.5 752.5,483.0 755.0,483.1 757.5,483.7 760.0,485.1 762.5,481.8 765.0,481.0 767.5,484.1 770.0,482.5 772.5,481.0 775.0,481.8 777.5,481.6 780.0,481.7 782.5,481.8 785.0,481.5 787.5,483.1 790.0,481.3 792.5,483.2 795.0,482.0 797.5,482.5 800.0,483.3 802.5,483.3 805.0,484.4 807.5,482.8 810.0,482.1 812.5,481.2 815.0,480.6 817.5,480.3 820.0,480.3 822.5,481.5 825.0,482.0 827.5,485.2 830.0,479.8 832.5,480.7 835.0,482.2 837.5,479.0 840.0,479.6 842.5,479.2 845.0,478.4 847.5,478.0 850.0,477.8 852.5,476.3 855.0,477.9 857.5,479.0 860.0,477.0 862.5,476.8 865.0,476.6 867.5,477.9 870.0,477.5 872.5,479.0 875.0,478.8 877.5,479.5 880.0,480.8 882.5,481.0 885.0,481.6 887.5,483.2 890.0,482.2 892.5,484.5 895.0,484.4 897.5,485.7 900.0,485.3 902.5,487.8 905.0,489.6 907.5,485.8 910.0,487.8 912.5,486.8 915.0,486.4 917.5,486.9 920.0,487.4 922.5,488.2 925.0,486.9 927.5,486.9 930.0,487.7 932.5,488.7 935.0,488.8 937.5,488.6 940.0,487.3 942.5,488.6 945.0,488.3 947.5,488.6 950.0,490.9 952.5,492.3 955.0,494.4 957.5,492.4 960.0,493.8 962.5,494.9 965.0,493.8 967.5,494.6 970.0,495.0 972.5,496.3 975.0,495.4 977.5,497.2 980.0,500.4 982.5,500.3 985.0,496.6 987.5,498.3 990.0,497.6 992.5,495.7 995.0,498.9 997.5,497.8 1000.0,495.7 1002.5,496.7 1005.0,496.9 1007.5,497.9 1010.0,495.1 1012.5,494.8 1015.0,493.4 1017.5,494.8 1020.0,494.5 1022.5,495.6 1025.0,494.3 1027.5,492.8 1030.0,493.3 1032.5,493.1 1035.0,492.7 1037.5,495.1 1040.0,493.0 1042.5,493.0 1045.0,492.9 1047.5,493.8 1050.0,494.4 1052.5,492.8 1055.0,492.9 1057.5,494.0 1060.0,493.0 1062.5,492.7 1065.0,494.0 1067.5,493.4 1070.0,492.6 1072.5,492.6 1075.0,492.2 1077.5,492.8 1080.0,491.5 1082.5,492.7 1085.0,490.0 1087.5,490.5 1090.0,490.7 1092.5,489.2 1095.0,488.2 1097.5,488.1 1100.0,489.7 1102.5,488.4 1105.0,488.9 1107.5,488.8 1110.0,488.3 1112.5,489.0 1115.0,486.6 1117.5,486.3 1120.0,486.9 1122.5,487.3 1125.0,487.8 1127.5,486.5 1130.0,487.4 1132.5,486.2 1135.0,485.9 1137.5,483.7 1140.0,482.6 1142.5,482.4 1145.0,480.9 1147.5,479.8 1150.0,478.2 1152.5,477.2 1155.0,473.8 1157.5,467.5 1160.0,466.3 1162.5,465.9 1165.0,461.5 1167.5,461.9 1170.0,460.6 1172.5,457.6 1175.0,454.4 1177.5,451.2 1180.0,448.2 1182.5,444.4 1185.0,439.8 1187.5,439.5 1190.0,435.5 1192.5,437.4 1195.0,435.4 1197.5,434.5 1200.0,431.0 1202.5,429.9 1205.0,430.7 1207.5,429.8 1210.0,428.7 1212.5,426.5 1215.0,423.7 1217.5,423.9 1220.0,421.3 1222.5,420.2 1225.0,418.5 1227.5,415.1 1230.0,414.5 1232.5,412.6 1235.0,411.5 1237.5,407.6 1240.0,410.0 1242.5,408.2 1245.0,406.6 1247.5,406.0 1250.0,402.7 1252.5,402.9 1255.0,402.1 1257.5,401.6 1260.0,400.8 1262.5,401.4 1265.0,399.7 1267.5,399.3 1270.0,400.2 1272.5,399.0 1275.0,399.4 1277.5,397.1 1280.0,398.8 1282.5,400.9 1285.0,396.9 1287.5,395.7 1290.0,395.6 1292.5,395.6 1295.0,395.7 1297.5,395.8 1300.0,395.5 1302.5,395.2 1305.0,394.9 1307.5,396.5 1310.0,396.3 1312.5,394.0 1315.0,393.0 1317.5,393.0 1320.0,393.9 1322.5,394.2 1325.0,393.0 1327.5,392.9 1330.0,392.4 1332.5,390.5 1335.0,390.7 1337.5,390.0 1340.0,389.8 1342.5,388.9 1345.0,390.8 1347.1,391.8 1349.2,387.5 1351.2,386.6 1352.2,380.6 1353.2,394.6 1354.2,388.4 1356.9,388.0 1359.6,387.9 1362.3,387.6 1365.0,387.3 1367.5,387.6 1370.0,386.2 1372.5,386.0 1375.0,386.6 1377.5,385.9 1380.0,386.3 1382.4,386.8 1384.8,387.2 1387.2,386.2 1388.8,396.7 1390.2,388.0 1392.7,387.3 1395.1,387.2 1397.6,386.2 1400.0,386.1 1402.5,387.3 1405.0,386.0 1407.5,386.5 1410.0,386.8 1412.5,388.7 1415.0,388.2 1417.5,387.8 1420.0,388.3 1422.5,388.5 1425.0,388.1 1427.5,387.0 1430.0,387.4 1432.5,387.9 1435.0,387.7 1437.5,387.8 1440.0,387.6 1442.5,387.8 1445.0,388.1 1447.5,389.1 1450.0,389.1 1452.5,389.4 1455.0,389.9 1457.5,390.5 1460.0,391.2 1462.5,391.6 1465.0,391.9 1467.5,391.5 1470.0,392.4 1472.5,392.4 1475.0,392.9 1477.5,393.5 1480.0,393.9 1482.5,394.8 1485.0,394.3 1487.5,395.5 1490.0,396.3 1492.5,396.3 1495.0,394.9 1497.5,393.8 1500.0,393.7 1502.5,393.3 1505.0,393.1 1507.5,392.7 1510.0,392.3 1512.8,392.5 1515.6,391.9 1518.3,392.5 1521.1,392.5 1523.9,392.7 1526.7,393.1 1529.4,392.8 1532.2,392.2 1535.0,392.5 1537.5,392.3 1540.0,392.7 1542.5,392.9 1545.0,393.0 1547.5,393.4 1550.0,393.6 1552.5,393.7 1555.0,393.7 1557.5,394.2 1560.0,394.4 1562.5,394.0 1565.0,394.1 1567.5,394.6 1570.0,394.7 1572.5,395.1 1575.0,395.5 1577.5,395.7 1580.0,396.1 1582.5,396.3 1585.0,396.7 1587.5,397.3 1590.0,397.5 1592.5,398.3 1595.0,398.6 1597.5,398.9 1600.0,399.4 1602.5,399.2 1605.0,399.5 1607.5,399.5 1610.0,399.5 1612.5,398.8 1615.0,398.7 1617.5,398.0 1620.0,396.9 1622.5,397.0 1625.0,396.5 1627.5,396.3 1630.0,396.4 1632.5,396.4 1635.0,396.0 1637.5,395.6 1640.0,395.7 1642.5,395.5 1645.0,395.6 1647.5,395.1 1650.0,395.0 1652.5,394.9 1655.0,394.5 1657.5,394.6 1660.0,394.5 1662.5,394.1 1665.0,393.6 1667.5,393.6 1670.0,393.3 1672.5,393.2 1675.0,393.0 1677.5,393.2 1680.0,392.8 1682.5,392.7 1685.0,392.6 1687.5,392.3 1690.0,393.0 1692.4,392.5 1694.8,391.6 1697.2,391.0 1699.6,390.3 1702.0,389.8 1704.4,389.4 1706.9,388.8 1709.3,387.9 1711.7,387.7 1714.1,387.0 1716.7,387.1 1719.4,386.7 1722.0,386.6 1724.7,386.0 1727.3,386.4 1729.1,384.9 1730.9,383.6 1733.6,383.1 1736.2,382.6 1738.9,382.5 1741.5,382.3 1744.2,382.0 1746.6,382.2 1749.0,381.9 1751.4,381.1 1753.8,381.0 1756.2,380.4 1758.6,380.4 1761.0,380.2 1763.4,380.1 1765.8,379.6 1768.2,379.5 1770.6,379.8 1773.1,379.7 1775.5,379.4 1777.9,379.5 1780.3,379.7 1782.7,379.9 1785.1,380.0 1787.5,380.1 1789.9,380.3 1792.7,380.0 1795.5,379.3 1798.3,379.0 1800.7,379.0 1803.1,378.9 1805.6,378.7 1808.0,378.7 1810.4,378.6 1812.8,378.1 1815.2,377.7 1817.6,377.4 1820.0,377.0 1822.4,376.7 1824.8,376.6 1827.2,375.6 1829.6,376.0 1832.0,375.7 1834.4,375.5 1836.5,374.6 1838.5,373.5 1840.5,372.4 1842.9,371.6 1845.3,370.8 1847.7,370.2 1850.1,368.3 1852.5,365.9 1854.5,364.6 1856.5,363.6 1858.5,363.0 1860.9,362.4 1863.3,361.5 1865.7,360.8 1868.1,360.2 1870.6,359.9 1873.0,359.2 1875.4,359.1 1877.8,358.4 1880.2,358.3 1882.6,357.4 1885.0,357.0 1887.4,356.2 1889.8,356.3 1892.2,356.1 1894.6,356.0 1897.0,355.2 1899.4,355.0 1901.9,355.0 1904.3,354.8 1906.7,354.4 1909.1,354.4 1911.5,354.0 1913.9,354.8 1916.3,354.6 1918.7,353.3 1921.4,353.3 1924.1,352.9 1926.8,352.7 1929.5,352.5" fill="none" stroke="#cd3350" stroke-width="4.2" stroke-linejoin="round" stroke-linecap="butt" />
<polyline points="122.0,851.1 124.7,851.1 127.3,849.2 130.0,849.4 132.5,849.4 135.0,847.7 137.5,845.0 140.0,844.8 142.5,845.4 145.0,842.2 147.5,841.3 150.0,842.1 152.5,841.1 155.0,840.7 157.5,839.9 160.0,838.9 162.5,838.3 165.0,837.8 167.5,835.4 170.0,834.7 172.5,833.5 175.0,831.5 177.5,830.2 180.0,829.6 182.5,827.8 185.0,825.7 187.5,824.3 190.0,822.2 192.5,820.2 195.0,818.8 197.5,819.0 200.0,818.3 202.5,817.0 205.0,814.8 207.5,813.5 210.0,812.0 212.5,811.1 215.0,810.8 217.5,809.3 220.0,810.1 222.5,807.5 225.0,806.8 227.5,805.5 230.0,807.5 232.5,807.0 235.0,804.6 237.5,804.3 240.0,801.8 242.5,803.1 245.0,802.3 247.5,799.1 250.0,798.7 252.5,795.6 255.0,795.3 257.5,793.7 260.0,793.3 262.5,791.4 265.0,790.0 267.5,788.7 270.0,787.4 272.5,787.1 275.0,785.4 277.5,785.1 280.0,783.3 282.2,781.2 284.4,779.8 286.6,780.9 288.8,778.0 291.6,777.9 294.4,779.8 297.2,780.5 300.0,780.0 302.5,780.3 305.0,779.5 307.5,777.9 310.0,777.3 312.5,776.9 315.0,775.3 317.5,774.9 320.0,777.2 322.5,776.6 325.0,775.4 327.5,775.5 330.0,774.8 332.5,773.1 335.0,772.9 337.5,772.6 340.0,770.5 342.5,769.8 345.0,768.4 347.5,768.7 350.0,766.6 352.5,766.0 355.0,766.4 357.5,766.7 360.0,764.4 362.5,763.3 365.0,763.8 367.5,764.0 370.0,761.0 372.5,760.4 375.0,761.3 377.5,759.2 380.0,758.4 382.5,757.4 385.0,754.1 387.5,754.3 390.0,752.6 392.5,748.9 395.0,747.8 397.5,752.4 400.0,749.5 402.5,748.0 405.0,746.3 407.4,744.4 409.8,743.7 412.2,742.9 414.6,744.3 417.0,741.1 419.1,739.8 421.2,735.2 423.3,730.8 425.4,726.2 427.5,721.8 430.0,719.7 432.5,714.7 435.0,711.8 437.5,707.4 440.0,705.9 442.5,701.1 445.0,697.2 447.5,693.6 450.0,688.5 452.5,685.5 455.0,683.6 457.5,680.4 459.6,675.8 461.7,673.3 463.8,668.5 465.6,663.2 467.5,660.3 469.5,664.8 472.1,664.4 474.7,662.5 477.3,661.7 479.9,662.5 482.5,661.5 485.0,656.9 487.5,659.1 490.0,657.7 492.5,656.7 495.0,656.9 497.5,655.0 500.0,654.4 502.5,655.5 505.0,652.4 507.5,650.0 510.0,650.7 512.5,648.2 515.0,648.9 517.5,648.8 520.0,647.3 522.5,646.5 525.0,645.6 527.5,646.1 530.0,645.2 532.5,645.1 535.0,644.4 537.5,643.0 540.0,643.8 542.5,643.5 545.0,643.4 547.5,642.7 550.0,641.8 552.8,640.9 555.6,638.6 558.3,640.8 561.1,641.0 563.9,639.0 566.7,640.4 569.4,639.0 572.2,641.5 575.0,639.1 577.8,640.4 580.6,638.7 583.3,637.5 586.1,638.2 588.9,636.0 591.7,635.6 594.4,636.0 597.2,635.6 600.0,636.3 602.6,635.0 605.1,634.8 607.7,633.6 610.3,633.2 612.9,632.8 615.4,635.6 618.0,632.4 620.4,631.7 622.8,631.3 625.2,631.7 627.6,630.5 630.0,630.1 632.8,628.9 635.6,628.3 638.3,628.2 641.1,627.4 643.9,627.7 646.7,627.0 649.4,626.0 652.2,626.3 655.0,625.2 657.8,624.6 660.6,626.1 663.3,624.9 666.1,625.2 668.9,625.9 671.7,626.3 674.4,625.3 677.2,624.2 680.0,622.7 682.8,623.1 685.6,619.4 688.3,620.2 691.1,620.5 693.9,619.1 696.7,619.1 699.3,618.3 702.0,617.5 704.7,616.1 707.3,618.5 710.0,615.4 712.7,615.6 715.3,614.1 718.0,613.7 720.7,613.4 723.3,613.9 725.8,615.0 728.3,613.7 730.8,612.3 733.3,613.5 735.8,613.7 738.3,613.7 740.7,612.7 743.0,613.1 745.3,613.9 747.7,611.4 750.0,612.3 752.7,611.5 755.3,612.2 758.0,613.3 760.7,609.6 763.3,609.6 765.8,608.2 768.3,611.2 770.8,609.4 773.3,608.5 775.7,608.9 778.0,609.2 780.3,609.2 782.7,609.5 785.0,609.4 787.3,611.3 789.7,609.7 792.0,611.9 794.3,612.5 796.7,612.0 799.2,611.4 801.7,612.0 804.2,613.4 806.7,611.8 809.0,611.4 811.3,611.0 813.7,610.2 816.0,609.1 818.3,609.5 820.7,609.9 823.0,610.1 825.3,609.8 827.7,612.6 830.0,606.9 832.5,607.8 835.0,609.3 837.5,606.0 840.0,606.7 842.3,606.2 844.7,605.0 847.0,604.7 849.3,604.1 851.7,603.2 854.0,602.3 856.3,604.2 858.7,605.5 861.0,603.7 863.3,603.8 866.1,604.3 868.9,603.2 871.7,603.7 874.4,605.0 877.2,606.8 880.0,608.7 882.5,608.7 885.0,608.7 887.5,609.7 890.0,608.0 892.5,610.0 895.0,609.6 897.5,610.5 900.0,609.9 902.7,614.1 905.3,611.1 908.0,613.8 910.7,614.8 913.3,614.8 916.0,612.8 918.7,614.4 921.3,614.9 924.0,615.7 926.7,614.7 929.0,615.7 931.3,616.6 933.7,616.9 936.0,617.2 938.3,616.9 941.1,616.4 943.9,618.4 946.7,618.7 949.2,619.9 951.7,620.6 954.2,622.1 956.7,619.7 959.2,620.8 961.7,621.4 964.2,622.6 966.7,622.1 969.0,622.6 971.3,623.9 973.7,622.3 976.0,623.5 978.3,624.5 980.8,625.7 983.3,625.5 985.8,622.2 988.3,624.2 990.0,625.1 992.8,623.0 995.6,626.0 998.3,624.7 1001.1,622.4 1003.9,623.1 1006.7,623.2 1009.4,624.0 1012.2,621.1 1015.0,619.6 1017.8,620.8 1020.6,620.4 1023.3,620.7 1025.8,620.1 1028.3,618.5 1030.8,619.0 1033.3,618.2 1035.8,620.7 1038.3,618.3 1040.8,618.6 1043.3,618.8 1045.8,619.0 1048.3,620.2 1050.8,621.2 1053.3,619.9 1056.1,620.9 1058.9,619.9 1061.7,619.5 1064.4,620.8 1067.2,620.1 1070.0,619.3 1072.2,618.2 1074.4,617.5 1076.7,616.6 1079.3,616.3 1082.0,617.8 1084.7,615.4 1087.3,615.8 1090.0,615.5 1092.8,614.4 1095.6,613.3 1098.3,614.8 1101.1,613.4 1103.9,614.0 1106.7,613.5 1109.4,613.0 1112.2,613.6 1115.0,611.1 1117.8,611.4 1120.6,611.8 1123.3,611.5 1125.7,612.1 1128.0,611.1 1130.3,612.2 1132.7,611.3 1135.0,611.3 1137.2,609.8 1139.4,606.2 1141.7,605.0 1143.9,603.7 1146.1,603.7 1148.3,603.3 1150.6,600.5 1152.8,598.2 1155.0,597.3 1157.5,592.5 1160.0,588.3 1162.5,587.5 1165.0,583.4 1167.8,583.7 1170.6,583.6 1173.3,581.9 1175.8,578.6 1178.3,575.0 1180.0,571.5 1181.7,567.0 1183.3,564.2 1185.0,562.3 1187.8,562.1 1190.6,558.2 1193.3,559.7 1195.6,559.2 1197.8,558.0 1200.0,555.7 1202.2,553.9 1204.4,554.9 1206.7,554.2 1209.4,552.9 1212.2,551.5 1215.0,550.1 1217.5,548.3 1220.0,544.8 1222.2,542.6 1224.4,541.4 1226.7,538.6 1229.2,538.9 1231.7,538.5 1234.2,535.6 1236.7,531.3 1238.9,529.0 1241.1,531.6 1243.3,529.5 1245.6,529.4 1247.8,528.8 1250.0,526.7 1252.2,525.5 1254.4,524.0 1256.7,522.9 1259.4,521.6 1262.2,521.8 1265.0,519.8 1267.8,520.8 1270.6,519.7 1273.3,516.7 1275.8,516.9 1278.3,514.4 1280.8,516.0 1283.3,516.5 1285.7,513.2 1288.0,513.3 1290.3,513.1 1292.7,513.3 1295.0,513.9 1297.3,513.6 1299.7,513.1 1302.0,512.6 1304.3,512.1 1306.7,511.6 1309.2,512.2 1311.7,509.1 1314.0,507.5 1316.3,509.1 1318.7,509.4 1321.0,511.0 1323.3,511.3 1325.8,510.6 1328.3,510.4 1330.8,508.3 1333.3,508.6 1335.8,508.0 1338.3,508.0 1340.0,507.3 1342.5,505.9 1345.0,509.0 1347.5,504.4 1350.0,503.3 1351.3,499.1 1352.0,508.3 1353.3,503.9 1356.1,503.1 1358.9,502.5 1361.7,501.7 1364.4,500.6 1367.2,500.9 1370.0,499.6 1372.5,498.8 1375.0,499.2 1377.5,498.4 1380.0,498.7 1382.5,498.5 1385.0,498.3 1387.5,496.7 1388.8,505.0 1390.0,498.5 1392.5,497.6 1395.0,497.2 1397.5,496.0 1400.0,495.7 1402.5,496.7 1405.0,495.2 1407.5,495.5 1410.0,495.5 1412.5,497.3 1415.0,496.5 1417.8,496.0 1420.6,496.3 1423.3,496.4 1426.1,495.9 1428.9,494.7 1431.7,494.9 1434.4,495.0 1437.2,494.5 1440.0,493.9 1442.8,493.7 1445.6,493.7 1448.3,493.6 1451.1,494.2 1453.9,494.7 1456.7,495.7 1459.4,495.9 1462.2,496.2 1465.0,496.3 1467.8,495.8 1470.6,496.5 1473.3,496.5 1476.1,496.6 1478.9,496.9 1481.7,497.5 1484.4,496.7 1487.2,497.6 1490.0,497.8 1491.9,497.9 1493.9,498.2 1495.8,498.3 1498.3,494.3 1501.1,493.7 1503.9,493.2 1506.7,492.5 1509.4,491.9 1512.2,492.2 1515.0,491.4 1517.8,491.9 1520.6,491.8 1523.3,491.8 1526.1,492.2 1528.9,491.9 1531.7,491.2 1534.4,491.4 1537.2,491.0 1540.0,491.3 1542.8,491.3 1545.6,491.7 1548.3,491.8 1551.1,491.8 1553.9,492.0 1556.7,492.0 1559.4,492.5 1562.2,492.8 1565.0,492.3 1567.8,492.9 1570.6,493.0 1573.3,493.5 1576.1,493.4 1578.9,493.3 1581.7,493.3 1584.4,493.2 1587.2,493.4 1590.0,493.4 1592.5,494.1 1595.0,494.5 1597.5,494.8 1600.0,495.2 1602.5,495.0 1605.0,495.3 1607.5,495.3 1610.0,495.3 1612.5,494.7 1615.0,494.6 1617.5,493.8 1620.0,493.0 1622.7,493.0 1625.3,492.4 1628.0,492.4 1630.7,492.3 1633.3,491.7 1635.8,491.6 1638.3,491.3 1640.8,491.6 1643.3,491.2 1645.8,491.4 1648.3,490.8 1651.1,490.5 1653.9,490.1 1656.7,490.0 1659.4,489.8 1662.2,489.3 1665.0,489.0 1667.8,488.8 1670.6,488.8 1673.3,488.7 1676.1,488.9 1678.9,488.5 1681.7,488.3 1684.4,488.2 1687.2,487.6 1690.0,488.1 1692.8,487.3 1695.6,486.6 1698.3,486.1 1700.2,485.1 1702.0,484.3 1704.4,484.2 1706.9,483.8 1709.3,483.1 1711.7,483.1 1714.1,482.7 1716.7,482.8 1719.4,482.4 1722.0,482.3 1724.7,481.7 1727.3,482.1 1729.1,480.9 1730.9,479.9 1733.6,479.3 1736.2,478.6 1738.9,478.5 1741.5,478.1 1744.2,477.7 1746.6,477.9 1749.0,477.6 1751.4,476.8 1753.8,476.7 1756.2,476.1 1758.6,476.0 1761.0,475.8 1763.4,475.6 1765.8,475.0 1768.2,474.9 1770.6,475.1 1773.1,474.8 1775.5,474.5 1777.9,474.5 1780.3,474.5 1782.7,474.6 1785.1,474.5 1787.5,474.5 1789.9,474.6 1792.7,474.2 1795.5,473.3 1798.3,472.9 1800.7,472.7 1803.1,472.5 1805.6,472.2 1808.0,472.1 1810.4,471.9 1812.8,471.5 1815.2,471.2 1817.6,471.0 1820.0,470.8 1822.4,470.6 1824.8,470.5 1827.2,469.5 1829.6,469.9 1832.0,469.6 1834.4,469.4 1836.5,468.7 1838.5,467.8 1840.5,466.9 1842.9,466.3 1845.3,465.7 1847.7,465.3 1850.1,463.4 1852.5,461.0 1854.5,459.7 1856.5,458.7 1858.5,458.1 1860.9,457.5 1863.3,456.6 1865.7,455.9 1868.1,455.3 1870.6,455.0 1873.0,454.4 1875.4,454.5 1877.8,453.8 1880.2,453.8 1882.6,453.1 1885.0,452.7 1887.4,451.9 1889.8,452.0 1892.2,451.8 1894.6,451.7 1897.0,450.9 1899.4,450.7 1901.9,450.7 1904.3,450.5 1906.7,450.1 1909.1,450.2 1911.5,449.8 1913.9,450.7 1916.3,450.6 1918.7,449.4 1921.4,449.2 1924.1,448.8 1926.8,448.5 1929.5,448.2" fill="none" stroke="#0a0ae8" stroke-width="4.2" stroke-linejoin="round" stroke-linecap="butt" />
<polyline points="122.5,806.2 123.8,792.5 126.2,781.2 128.0,800.0 129.6,798.1 131.2,797.5 133.8,793.8 135.6,789.3 137.5,785.0 139.4,789.4 141.2,792.5 142.9,797.1 144.5,798.8 146.2,787.5 148.1,783.3 150.0,782.5 151.5,782.2 153.0,780.0 154.6,785.1 156.2,786.2 158.1,790.0 160.0,791.2 162.5,782.5 164.0,780.3 165.5,778.8 167.1,784.6 168.8,783.8 170.6,779.6 172.5,776.2 174.4,770.4 176.2,767.5 178.8,752.5 181.2,747.5 182.5,733.8 184.4,732.7 186.2,732.5 188.0,738.8 189.6,735.4 191.2,731.2 193.1,734.0 195.0,735.0 197.5,742.5 200.0,758.8 201.5,755.8 203.0,757.5 205.0,741.2 207.5,740.0 209.4,743.5 211.2,747.5 213.8,745.0 215.6,751.3 217.5,757.5 220.0,747.5 222.5,745.0 225.0,733.8 226.9,733.3 228.8,733.0 230.6,735.7 232.5,736.2 234.4,735.3 236.2,735.0 238.1,738.4 240.0,740.0 242.5,748.8 245.0,737.5 246.9,740.8 248.8,743.8 250.6,746.2 252.5,751.2 254.4,747.1 256.2,745.0 258.8,740.0 260.0,722.5 262.5,721.2 265.0,745.0 267.5,735.0 269.4,737.5 271.2,737.5 273.8,731.2 275.4,734.4 277.0,735.0 278.8,712.5 281.2,711.2 283.8,727.5 286.2,713.8 287.0,703.8 288.8,718.8 290.5,745.0 292.1,744.7 293.8,742.5 295.6,745.6 297.5,747.5 300.0,740.0 301.9,742.0 303.8,742.5 306.2,750.0 308.8,760.0 310.6,755.9 312.5,751.2 314.0,750.9 315.5,750.0 317.1,756.7 318.8,765.0 321.2,773.8 323.8,767.5 326.2,763.8 328.8,750.0 330.6,750.0 332.5,747.5 334.4,747.6 336.2,745.0 338.1,742.3 340.0,737.5 341.9,738.4 343.8,738.8 345.6,744.1 347.5,747.5 350.0,738.8 351.9,739.6 353.8,741.2 355.6,745.7 357.5,745.0 359.4,743.4 361.2,741.2 363.8,732.5 366.2,720.0 368.8,708.8 370.6,710.0 372.5,705.0 374.4,705.4 376.2,701.2 378.8,692.5 381.2,696.2 383.8,678.8 386.2,677.0 388.1,679.0 390.0,681.2 392.5,686.2 394.4,684.0 396.2,678.8 398.1,678.2 400.0,677.5 401.9,683.0 403.8,685.0 406.2,681.2 408.1,685.4 410.0,687.5 411.9,686.4 413.8,682.5 415.4,682.0 417.0,686.2 418.0,655.0 419.6,650.1 421.2,647.5 423.0,641.2 423.8,620.0 425.6,617.5 427.5,621.2 429.4,618.8 431.2,625.0 433.8,625.6 435.0,620.0 436.9,605.0 438.1,592.5 439.4,590.0 440.6,597.5 441.0,633.8 441.5,633.8 442.5,600.0 445.0,603.8 446.2,597.5 448.8,588.8 450.6,592.5 452.5,587.5 455.0,592.5 456.9,575.0 458.8,572.5 460.0,581.2 461.9,570.0 463.4,570.2 465.0,568.8 466.9,577.5 468.8,595.0 470.0,586.2 471.9,592.5 472.5,606.2 474.4,591.2 476.2,591.2 478.1,600.0 479.4,615.0 481.2,625.0 482.5,615.0 483.1,595.0 485.0,598.8 487.5,605.0 488.8,618.8 490.6,615.0 491.9,606.2 493.8,605.0 495.0,597.5 496.2,590.0 497.5,580.0 499.4,578.8 501.2,583.8 502.5,591.2 504.4,580.0 505.6,577.5 507.5,583.8 508.8,587.5 511.2,582.5 513.8,586.2 515.0,578.8 516.9,588.8 518.1,597.5 519.4,607.5 521.2,605.0 523.1,602.5 525.0,590.0 526.9,600.0 528.8,597.5 531.2,590.0 533.8,585.0 536.2,573.8 538.1,578.8 540.0,585.0 541.9,592.5 543.8,580.0 545.3,579.5 546.9,579.4 548.1,588.8 550.0,602.5 551.2,595.0 552.5,605.0 553.8,622.5 555.6,600.0 557.5,611.2 559.4,617.5 561.2,612.5 563.5,633.8 566.2,634.4 567.5,608.8 570.0,607.5 572.5,610.0 575.0,601.2 577.5,598.8 579.1,599.0 580.6,598.8 582.5,607.5 585.0,613.8 587.5,611.2 590.0,618.8 592.5,613.8 595.0,620.0 596.9,611.2 598.8,627.5 601.0,642.5 602.8,651.2 605.0,647.5 607.5,635.0 609.4,615.0 610.9,615.3 612.5,612.5 615.0,608.8 617.5,615.0 620.0,617.5 622.5,625.0 625.0,617.5 627.5,627.5 629.4,626.8 631.2,628.8 633.8,618.8 636.2,622.5 638.8,625.0 639.2,623.3 641.7,611.7 643.3,603.3 645.8,605.0 647.5,598.3 649.6,600.6 651.7,597.5 654.2,601.7 655.8,588.3 657.5,578.3 659.2,580.7 660.8,583.3 663.3,585.0 665.8,596.7 668.3,588.3 670.0,590.1 671.7,590.0 673.3,587.8 675.0,583.3 676.7,590.1 678.3,593.3 680.0,592.0 681.7,590.0 684.2,586.7 685.8,591.8 687.5,596.7 689.6,595.3 691.7,595.0 694.2,591.7 696.7,585.0 698.3,580.2 700.0,579.2 701.7,576.7 704.2,579.2 705.8,577.5 708.3,588.3 710.0,587.7 711.7,586.7 713.3,586.2 715.0,584.2 716.7,594.5 718.3,601.7 720.8,585.8 722.5,595.0 724.2,598.5 725.8,600.0 728.3,605.0 730.8,600.8 732.9,600.4 735.0,599.2 737.5,606.7 740.0,611.7 741.7,604.8 743.3,603.3 745.8,613.3 748.3,615.0 750.0,612.4 751.7,611.7 754.2,623.3 755.8,636.7 758.3,623.3 760.0,627.8 761.7,630.0 764.2,624.2 765.8,626.2 767.5,632.5 769.2,627.3 770.8,628.3 773.3,618.3 775.8,616.7 778.3,623.3 780.8,631.7 783.3,643.3 785.3,666.7 787.5,653.3 790.0,644.2 791.5,652.7 793.0,663.3 795.0,650.0 797.5,646.7 800.0,638.3 802.5,640.0 805.0,650.8 806.7,648.2 808.3,645.0 810.0,639.3 811.7,633.3 814.2,620.0 816.7,610.0 819.2,605.0 821.7,611.7 823.3,615.8 825.8,606.7 827.5,596.7 830.0,598.3 831.7,595.5 833.3,592.5 835.0,595.1 836.7,598.3 839.2,606.7 840.8,610.5 842.5,613.3 845.0,596.7 846.7,592.8 848.3,588.3 850.8,597.5 852.5,590.3 854.2,585.0 855.8,596.7 857.5,597.5 859.2,600.8 861.7,613.3 863.3,618.7 865.0,621.7 866.7,621.9 868.3,628.3 870.8,635.0 872.5,660.0 874.2,694.2 875.8,660.0 878.3,651.7 880.8,663.3 882.5,640.0 884.2,621.7 886.7,635.0 889.2,627.5 890.8,631.3 892.5,636.7 895.0,643.3 896.7,634.5 898.3,626.7 900.8,638.3 903.3,651.7 905.8,636.7 907.9,634.4 910.0,635.0 911.7,641.0 913.3,644.2 915.0,641.3 916.7,637.5 918.3,632.2 920.0,627.5 921.7,632.3 923.3,633.3 925.8,618.3 927.5,611.7 929.6,612.7 931.7,611.7 933.8,613.0 935.8,618.3 937.5,630.0 939.2,640.0 941.7,630.8 944.2,638.3 946.7,643.3 949.2,640.0 950.8,643.7 952.5,648.3 955.0,638.3 957.5,653.3 959.2,647.9 960.8,643.3 963.3,655.0 965.8,675.8 968.3,666.7 970.8,668.3 973.3,660.0 975.8,647.5 978.3,656.7 980.0,646.7 981.7,642.8 983.3,643.3 985.8,630.8 987.5,630.4 989.2,632.5 990.0,632.5 992.5,633.8 995.0,630.0 997.5,628.3 1000.0,620.0 1002.5,613.3 1005.0,618.3 1006.7,614.6 1008.3,615.0 1010.0,613.0 1011.7,611.7 1014.2,616.7 1016.7,611.7 1018.3,613.5 1020.0,615.0 1022.5,606.7 1025.0,601.7 1026.7,602.2 1028.3,604.2 1030.8,603.3 1033.3,613.3 1035.8,615.0 1038.3,628.3 1040.8,634.2 1042.9,631.9 1045.0,630.0 1047.5,625.0 1050.0,618.3 1052.5,613.3 1055.0,621.7 1056.7,623.9 1058.3,625.0 1060.8,635.0 1063.0,638.3 1065.0,621.7 1067.5,618.3 1070.0,623.3 1072.5,605.0 1075.0,603.3 1077.5,595.0 1080.0,592.5 1082.5,598.3 1085.0,590.0 1087.5,592.5 1089.2,591.6 1090.8,588.3 1093.3,595.0 1095.0,596.5 1096.7,596.7 1099.2,605.0 1101.7,595.0 1104.2,591.7 1105.8,600.0 1107.5,598.4 1109.2,598.3 1110.8,595.9 1112.5,594.2 1115.0,580.0 1116.7,570.0 1119.2,572.5 1121.7,576.7 1124.2,585.0 1126.7,586.7 1128.3,589.7 1130.0,593.3 1131.7,594.8 1133.3,600.0 1135.8,590.0 1137.5,563.3 1139.2,558.3 1141.7,555.8 1144.2,556.7 1146.7,553.3 1148.3,545.0 1150.8,536.7 1152.5,516.7 1154.2,505.0 1155.8,510.0 1158.3,492.5 1160.0,500.0 1162.5,513.3 1165.0,498.3 1166.7,501.0 1168.3,501.7 1170.8,505.8 1173.3,496.7 1175.8,494.2 1178.3,486.7 1180.0,476.7 1182.5,471.7 1185.0,474.2 1187.5,473.3 1189.2,473.9 1190.8,475.0 1193.3,485.0 1195.8,498.3 1198.3,488.3 1200.8,481.7 1203.3,475.0 1205.8,483.3 1208.3,480.0 1210.8,476.7 1213.3,485.0 1215.0,490.0 1217.5,481.7 1220.0,460.0 1222.5,476.7 1225.0,465.8 1227.5,470.0 1230.0,466.7 1232.5,473.3 1235.0,486.7 1237.5,470.8 1240.0,465.0 1242.5,470.8 1245.0,463.3 1247.5,465.8 1250.0,456.7 1252.5,450.8 1255.0,445.0 1256.7,453.3 1259.2,461.7 1260.8,475.0 1262.5,493.3 1265.0,472.5 1267.5,481.7 1269.6,487.2 1271.7,494.2 1274.2,478.3 1275.8,473.0 1277.5,472.5 1280.0,480.0 1281.7,481.8 1283.3,485.0 1285.0,489.4 1286.7,488.3 1288.3,491.8 1290.0,493.3 1292.5,496.7 1294.2,491.8 1295.8,485.8 1298.3,491.7 1300.8,480.0 1302.5,479.6 1304.2,475.0 1305.8,475.0 1307.5,475.0 1310.0,470.8 1312.5,462.5 1315.0,476.7 1317.5,486.7 1319.2,491.0 1320.8,496.7 1323.3,486.7 1325.0,488.6 1326.7,488.3 1329.2,485.8 1331.7,500.8 1334.2,480.0 1336.7,478.3 1339.2,470.0 1341.7,465.0 1344.2,451.7 1346.7,456.7 1349.2,445.8 1349.2,468.3 1350.8,444.2 1353.3,463.3 1355.0,448.3 1357.5,455.0 1359.2,463.3 1361.7,450.0 1364.2,453.3 1366.7,455.0 1369.2,460.0 1370.8,473.3 1373.3,461.7 1375.8,466.7 1378.3,453.3 1380.8,450.8 1383.3,458.3 1385.0,463.3 1387.5,470.0 1388.8,493.3 1390.0,478.3 1391.7,464.2 1394.2,475.0 1396.7,480.0 1399.2,473.3 1401.7,470.8 1404.2,481.7 1406.7,480.0 1409.2,485.0 1411.7,475.8 1414.2,478.3 1416.7,485.0 1418.3,481.5 1420.0,478.3 1422.5,474.2 1425.0,476.7 1426.7,475.9 1428.3,480.0 1430.0,482.3 1431.7,483.3 1434.2,489.2 1436.7,481.7 1438.3,477.0 1440.0,475.0 1442.0,471.7 1443.3,485.0 1445.0,484.1 1446.7,481.7 1449.2,482.5 1450.8,490.0 1452.5,501.7 1454.2,510.0 1455.8,506.7 1457.5,523.3 1459.2,516.7 1460.8,545.0 1463.3,520.0 1465.8,518.3 1467.5,493.3 1469.2,488.3 1470.8,506.7 1472.5,529.2 1475.0,503.3 1477.5,494.2 1479.2,503.3 1481.7,501.7 1483.3,516.7 1485.8,517.5 1488.3,530.0 1490.8,550.8 1492.5,528.3 1495.0,540.0 1496.7,526.7 1499.2,540.0 1500.8,526.7 1502.5,523.3 1505.0,526.7 1507.5,531.7 1510.0,524.2 1512.5,535.0 1515.0,521.7 1516.7,515.8 1519.2,521.7 1520.8,526.7 1523.3,524.2 1525.8,525.8 1528.3,516.7 1530.8,510.0 1533.3,510.8 1535.8,511.7 1538.3,515.0 1540.8,520.0 1543.3,526.7 1545.8,530.8 1548.3,535.0 1550.8,529.2 1553.3,521.7 1555.8,514.2 1557.5,531.7 1560.0,525.0 1561.7,527.7 1563.3,526.7 1565.8,531.7 1567.5,545.0 1569.2,562.5 1570.8,541.7 1572.5,546.7 1574.2,561.7 1575.8,530.0 1578.3,546.7 1580.8,531.7 1583.3,523.3 1585.8,520.8 1588.3,526.7 1590.8,519.2 1593.3,528.3 1595.0,525.4 1596.7,523.3 1598.3,523.3 1600.0,522.5 1601.7,522.1 1603.3,521.7 1605.0,521.0 1606.7,523.3 1609.2,511.7 1611.7,506.7 1613.3,490.0 1615.8,495.0 1618.3,490.0 1620.8,485.8 1623.3,490.0 1625.0,487.9 1626.7,486.7 1629.2,492.5 1631.7,485.8 1634.2,491.7 1636.7,483.3 1638.3,481.3 1640.0,477.5 1642.5,481.7 1645.0,483.3 1646.7,486.6 1648.3,488.3 1650.8,490.8 1653.3,480.0 1655.8,475.0 1658.3,460.0 1660.8,457.5 1662.5,454.5 1664.2,455.0 1665.8,455.5 1667.5,456.7 1670.0,464.2 1672.5,455.0 1675.0,460.0 1677.5,463.3 1680.0,457.5 1681.7,459.9 1683.3,458.3 1685.8,450.0 1687.5,461.7 1690.0,450.0 1692.5,451.7 1695.0,438.3 1696.7,433.3 1698.3,441.7 1699.0,435.1 1700.2,444.7 1702.6,445.9 1705.0,447.7 1707.5,439.9 1709.9,442.3 1711.7,439.3 1714.1,443.5 1715.9,445.9 1717.7,444.7 1718.9,451.9 1720.7,455.6 1721.9,459.2 1724.3,455.6 1726.7,454.4 1728.5,456.8 1730.3,449.5 1732.1,450.7 1733.9,452.5 1735.7,454.4 1737.5,467.6 1738.8,460.4 1740.0,455.6 1741.8,454.4 1744.2,451.9 1746.6,450.7 1748.4,442.3 1749.6,438.7 1751.1,438.7 1752.6,439.3 1754.4,442.3 1756.2,445.9 1758.0,456.8 1759.8,453.1 1762.2,454.4 1764.0,452.5 1766.4,454.4 1768.2,443.5 1769.4,450.7 1771.2,455.6 1773.7,456.8 1776.1,455.6 1777.9,454.4 1779.1,451.3 1780.3,458.0 1782.7,460.4 1784.5,467.6 1785.7,472.4 1787.5,471.8 1788.7,465.2 1789.9,453.1 1792.3,448.3 1794.1,445.9 1796.5,446.5 1798.9,447.7 1801.3,446.5 1803.8,445.3 1806.2,443.5 1808.6,447.1 1810.4,449.5 1811.6,452.5 1813.4,443.5 1815.8,439.3 1817.6,442.3 1819.4,445.9 1821.8,444.7 1824.2,442.9 1826.0,442.3 1828.4,445.3 1830.8,444.1 1833.2,442.3 1835.0,435.1 1836.9,427.9 1838.1,417.0 1839.9,417.0 1841.1,418.8 1842.9,417.0 1844.7,415.2 1845.9,412.2 1846.7,404.4 1848.3,411.0 1850.1,421.9 1851.9,414.6 1853.7,413.4 1855.5,412.2 1857.3,410.4 1859.1,415.2 1861.5,415.8 1863.9,415.2 1866.3,413.4 1868.8,419.4 1870.6,412.8 1873.0,414.6 1875.4,415.8 1877.2,417.0 1878.4,424.3 1880.2,418.2 1882.6,415.8 1885.0,413.4 1887.4,412.8 1889.8,414.6 1892.2,415.8 1894.6,415.2 1896.4,417.0 1898.2,423.1 1900.0,427.9 1901.9,431.5 1903.7,429.1 1906.1,425.5 1907.9,424.3 1910.3,430.3 1912.1,427.9 1913.9,426.7 1915.7,420.6 1917.5,418.8 1919.9,420.6 1922.3,419.4 1924.1,417.0 1925.3,411.0 1926.5,405.0 1927.7,411.0 1929.5,413.4" fill="none" stroke="#000000" stroke-width="5.0" stroke-linejoin="round" stroke-linecap="butt" />
<line x1="1930" y1="349" x2="1930" y2="897" stroke="#151515" stroke-width="2.2" stroke-dasharray="6 6.2"/>
<text y="709.4" font-size="29" fill="#1020d8" font-weight="bold" stroke="#1020d8" stroke-width="0.5"><tspan x="1601.15" letter-spacing="0.525">STH-RP: </tspan><tspan x="1729.10" letter-spacing="1.300">$107k</tspan></text>
<line x1="1586.3" y1="727" x2="1930" y2="727" stroke="#2a24cc" stroke-width="2.4" stroke-dasharray="6.6 5.75" stroke-dashoffset="2.95"/>
<text y="766" font-size="29" fill="#3ed11e" font-weight="bold" stroke="#3ed11e" stroke-width="0.5"><tspan x="1593.35" letter-spacing="0.720">STH-RP </tspan><tspan x="1712.30" letter-spacing="0.283">-1σ: </tspan><tspan x="1775.80" letter-spacing="2.600">$93k</tspan></text>
<line x1="1586.3" y1="780.8" x2="1930" y2="780.8" stroke="#3ed11e" stroke-width="2.4" stroke-dasharray="6.6 5.75" stroke-dashoffset="2.95"/>
<text y="822.6" font-size="29" fill="#f5a81f" font-weight="bold" stroke="#f5a81f" stroke-width="0.5"><tspan x="1593.35" letter-spacing="0.720">STH-RP </tspan><tspan x="1712.85" letter-spacing="-0.083">+1σ: </tspan><tspan x="1781.70" letter-spacing="1.125">$127k</tspan></text>
<line x1="1586.3" y1="840.2" x2="1930" y2="840.2" stroke="#efc64c" stroke-width="2.4" stroke-dasharray="6.6 5.75" stroke-dashoffset="2.95"/>
<text y="883" font-size="29" fill="#ea1660" font-weight="bold" stroke="#ea1660" stroke-width="0.5"><tspan x="1594.05" letter-spacing="0.720">STH-RP </tspan><tspan x="1713.55" letter-spacing="1.150">+2σ: </tspan><tspan x="1786.20" letter-spacing="1.850">$144k</tspan></text>
<line x1="1586.3" y1="896.5" x2="1930" y2="896.5" stroke="#e0205c" stroke-width="2.4" stroke-dasharray="6.6 5.75" stroke-dashoffset="2.95"/>
<text y="1161" font-size="27" fill="#828282" ><tspan x="53.25" letter-spacing="0.081">© 2025 Glassnode. All Rights Reserved.</tspan></text>
<text y="1169" font-size="55" fill="#dadada"><tspan x="1836.00" textLength="37.49" lengthAdjust="spacingAndGlyphs">g</tspan><tspan x="1872.72" textLength="13.59" lengthAdjust="spacingAndGlyphs">l</tspan><tspan x="1884.90" textLength="32.12" lengthAdjust="spacingAndGlyphs">a</tspan><tspan x="1921.40" textLength="26.74" lengthAdjust="spacingAndGlyphs">s</tspan><tspan x="1946.53" textLength="24.42" lengthAdjust="spacingAndGlyphs">s</tspan><tspan x="1968.98" textLength="34.43" lengthAdjust="spacingAndGlyphs">n</tspan><tspan x="2003.17" textLength="36.56" lengthAdjust="spacingAndGlyphs">o</tspan><tspan x="2037.39" textLength="36.24" lengthAdjust="spacingAndGlyphs">d</tspan><tspan x="2071.16" textLength="35.06" lengthAdjust="spacingAndGlyphs">e</tspan></text>
</svg></body></html>
